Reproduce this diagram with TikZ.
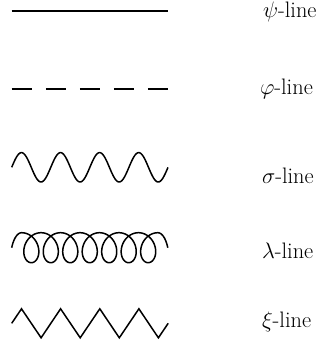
\documentclass[tikz,border=0pt]{standalone}
\begin{document}
\begin{tikzpicture}[x=1bp,y=-1bp,line width=1.6bp,
  lbl/.style={anchor=base west,inner sep=0pt,scale=1.3,font=\fontsize{17.28}{20}\selectfont},
  wavy/.style={line width=1.5bp,line join=round}]
\useasboundingbox (0,0) rectangle (330,354);
% psi line
\coordinate (psiA) at (11.7,11);
\coordinate (psiB) at (168,11);
\draw[line width=1.8bp] (psiA) -- (psiB);
\node[lbl] (psiL) at (262,17.2) {$\psi$-line};
% phi line
\coordinate (phiA) at (11.7,89.3);
\coordinate (phiB) at (168,89.3);
\draw[line width=1.8bp,dash pattern=on 20bp off 14.07bp] (phiA) -- (phiB);
\node[lbl] (phiL) at (259,94.3) {$\varphi$-line};
% sigma line
\draw[wavy] plot[domain=0:4,samples=161,smooth] ({11.7+39.08*\x},{167.3-14.7*sin(360*\x)});
\node[lbl] (sigL) at (261,183.3) {$\sigma$-line};
% lambda line (coil)
\draw[wavy]
  plot[domain=0:90,samples=12,smooth] ({16.7+0.054105*\x-5*cos(\x)},{247.7-15*sin(\x)})
  -- plot[domain=90:2610,samples=421,smooth] ({16.7+0.054105*\x-12*cos(\x)},{247.7-15*sin(\x)})
  -- plot[domain=2610:2700,samples=12,smooth] ({16.7+0.054105*\x-5*cos(\x)},{247.7-15*sin(\x)});
\node[lbl] (lamL) at (261,258.3) {$\lambda$-line};
% xi line (zigzag)
\coordinate (x0) at (11.7,323.3);
\coordinate (x9) at (168.2,323.3);
\draw[wavy,line join=miter] (x0) -- (21.5,308.8) -- (41.1,337.8) -- (60.6,308.8) -- (80.2,337.8)
  -- (99.8,308.8) -- (119.3,337.8) -- (138.9,308.8) -- (158.4,337.8) -- (x9);
\node[lbl] (xiL) at (261,327.3) {$\xi$-line};
\end{tikzpicture}
\end{document}
